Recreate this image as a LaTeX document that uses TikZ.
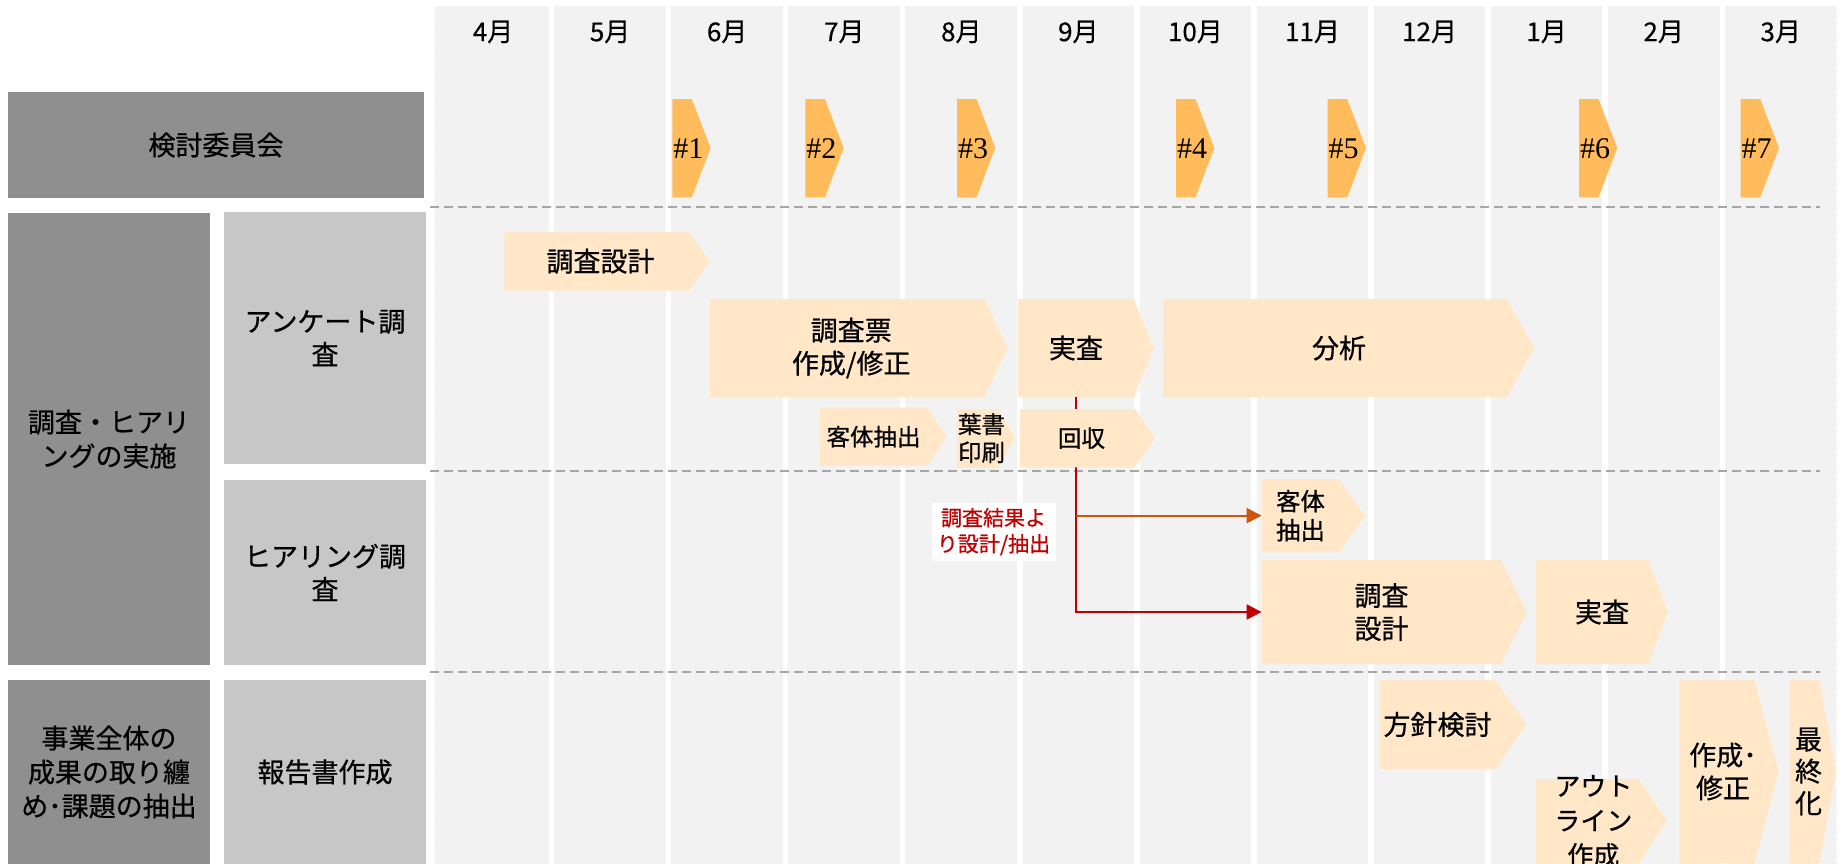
\documentclass[tikz,border=0pt]{standalone}
\usepackage{fontspec}
\setmainfont{Noto Sans CJK JP}[FakeBold=0.6]
\newfontfamily\monthfont{Noto Sans CJK JP}[FakeBold=0.3]
\newfontfamily\serifnum{Liberation Serif}
\usetikzlibrary{arrows.meta}
\definecolor{colbg}{HTML}{F1F2F1}
\definecolor{hdrdark}{HTML}{8F8F8F}
\definecolor{hdrlight}{HTML}{C7C7C7}
\definecolor{meetorange}{HTML}{FFBB5C}
\definecolor{taskpeach}{HTML}{FFE7C8}
\definecolor{sepgray}{HTML}{A6A6A6}
\definecolor{linkred}{HTML}{C00000}
\definecolor{linkorange}{HTML}{D0550C}
\tikzset{
  hdrdarkbox/.style={fill=hdrdark, inner sep=0pt, align=center, font=\fontsize{13.5}{17}\selectfont},
  hdrlightbox/.style={fill=hdrlight, inner sep=0pt, align=center, font=\fontsize{13.5}{16.5}\selectfont},
  monthlabel/.style={inner sep=0pt, font=\monthfont\fontsize{13}{15}\selectfont},
  taskbig/.style={inner sep=0pt, align=center, font=\fontsize{13.5}{16.5}\selectfont},
  tasksmall/.style={inner sep=0pt, align=center, font=\fontsize{11.75}{14}\selectfont},
  taskmid/.style={inner sep=0pt, align=center, font=\fontsize{12.25}{14.5}\selectfont},
  taskvert/.style={inner sep=0pt, align=center, font=\fontsize{13.5}{16}\selectfont},
  taskouter/.style={inner sep=0pt, align=center, font=\fontsize{13}{17.3}\selectfont},
  meetlabel/.style={inner sep=0pt, font=\serifnum\fontsize{15}{16}\selectfont},
  sepline/.style={draw=sepgray, line width=1pt, dash pattern=on 4.5pt off 2.5pt},
  gridedge/.style={draw=white, line width=0.6pt, dash pattern=on 1.5pt off 1.5pt},
  linkarrow/.style={line width=1pt, -{Triangle[length=7.5pt,width=7.5pt]}},
  notebox/.style={fill=white, inner sep=0pt, align=center, text=linkred, font=\fontsize{10.5}{13}\selectfont},
}
% #1 node style, #2 name, #3 x1, #4 x rect end, #5 x tip, #6 y top, #7 y bottom, #8 text, #9 fill colour
\newcommand\chev[9]{%
  \fill[#9] (#3,#6) -- (#4,#6) -- (#5,{(#6+#7)/2}) -- (#4,#7) -- (#3,#7) -- cycle;
  \node[#1, minimum width={(#4-#3)*0.5pt}, minimum height={(#7-#6)*0.5pt}] (#2) at ({(#3+#4)/2},{(#6+#7)/2}) {#8};
}
% committee chevron: #1 name, #2 x1, #3 label
\newcommand\meet[3]{%
  \fill[meetorange] (#2,99) -- ({#2+19.5},99) -- ({#2+38.3},148) -- ({#2+19.5},197.3) -- (#2,197.3) -- cycle;
  \node[meetlabel] (#1) at ({#2+16},149) {#3};
}
\begin{document}
\begin{tikzpicture}[x=0.5pt, y=-0.5pt]
\useasboundingbox (0,0) rectangle (1842,863);
% month columns
\foreach \m [count=\i from 0] in {4月,5月,6月,7月,8月,9月,10月,11月,12月,1月,2月,3月} {
  \pgfmathsetmacro\xl{437.2+117.06*\i}
  \fill[colbg] (\xl,6) rectangle ({\xl+111.7},870);
  \node[monthlabel] (m\i) at ({\xl+55.85},32) {\m};
}
\fill[colbg] (434,6) rectangle (440,870);
\draw[gridedge] (434.6,6) -- (434.6,870);
\draw[gridedge] (1836.2,6) -- (1836.2,870);
% separators
\draw[sepline] (430,207) -- (1820,207);
\draw[sepline] (430,471) -- (1820,471);
\draw[sepline] (430,672) -- (1820,672);
% row headers
\node[hdrdarkbox, minimum width=208pt, minimum height=53pt] (committee) at (216,145) {検討委員会};
\node[hdrdarkbox, minimum width=101pt, minimum height=226pt] (survey) at (109,439) {調査・ヒアリ\\ングの実施};
\node[hdrlightbox, minimum width=101pt, minimum height=126pt] (enquete) at (325,338) {アンケート調\\査};
\node[hdrlightbox, minimum width=101pt, minimum height=92.5pt] (hearing) at (325,572.5) {ヒアリング調\\査};
\node[hdrdarkbox, minimum width=101pt, minimum height=92pt] (summary) at (109,772) {事業全体の\\成果の取り纏\\め･課題の抽出};
\node[hdrlightbox, minimum width=101pt, minimum height=92pt] (report) at (325,772) {報告書作成};
% committee meetings
\meet{c1}{672.3}{\#1}
\meet{c2}{805.4}{\#2}
\meet{c3}{957}{\#3}
\meet{c4}{1176}{\#4}
\meet{c5}{1327.7}{\#5}
\meet{c6}{1579}{\#6}
\meet{c7}{1740.7}{\#7}
% questionnaire survey tasks
\chev{taskbig, xshift=2pt}{ankdesign}{504}{689}{710}{232}{290.5}{調査設計}{taskpeach}
\chev{taskbig, xshift=2pt}{ankform}{710}{984.5}{1007.5}{299}{397}{調査票\\作成/修正}{taskpeach}
\chev{taskbig}{ankjissa}{1018}{1134}{1153.5}{299}{397}{実査}{taskpeach}
\chev{taskbig, xshift=2pt}{ankanalysis}{1163}{1507}{1534}{299}{397}{分析}{taskpeach}
\chev{tasksmall}{anksample}{819.5}{927.6}{946.7}{407.7}{465.7}{客体抽出}{taskpeach}
\chev{tasksmall, xshift=2pt}{ankprint}{957}{998}{1014.6}{409}{467.5}{葉書\\印刷}{taskpeach}
% hearing survey tasks
\chev{taskmid}{hrsample}{1262}{1339}{1365}{479}{552.3}{客体\\抽出}{taskpeach}
\chev{taskbig}{hrdesign}{1262}{1501}{1526.5}{560}{664}{調査\\設計}{taskpeach}
\chev{taskbig, xshift=5pt}{hrjissa}{1536}{1648}{1668}{560}{664}{実査}{taskpeach}
% connectors
\draw[linkarrow, draw=linkred] (ankjissa.south) |- (hrdesign.west);
\draw[linkarrow, draw=linkorange] (ankjissa.south |- hrsample.west) -- (hrsample.west);
\node[notebox, minimum width=62pt, minimum height=29pt] (note) at (993.5,531.7) {調査結果よ\\り設計/抽出};
% collection drawn over the connector
\chev{tasksmall, xshift=2pt}{ankcollect}{1020}{1135}{1155}{409}{467.3}{回収}{taskpeach}
% report tasks
\chev{taskbig}{rppolicy}{1380}{1495}{1526.4}{680}{769}{方針検討}{taskpeach}
\chev{taskouter, xshift=3pt}{rpoutline}{1536}{1638.7}{1667}{779}{863}{アウト\\ライン\\作成}{taskpeach}
\chev{taskbig, xshift=3pt}{rpdraft}{1679.5}{1754.5}{1778.7}{680}{863}{作成･\\修正}{taskpeach}
\chev{taskvert, xshift=2pt}{rpfinal}{1789.5}{1819.5}{1835.8}{680}{863}{最\\終\\化}{taskpeach}
\end{tikzpicture}
\end{document}
